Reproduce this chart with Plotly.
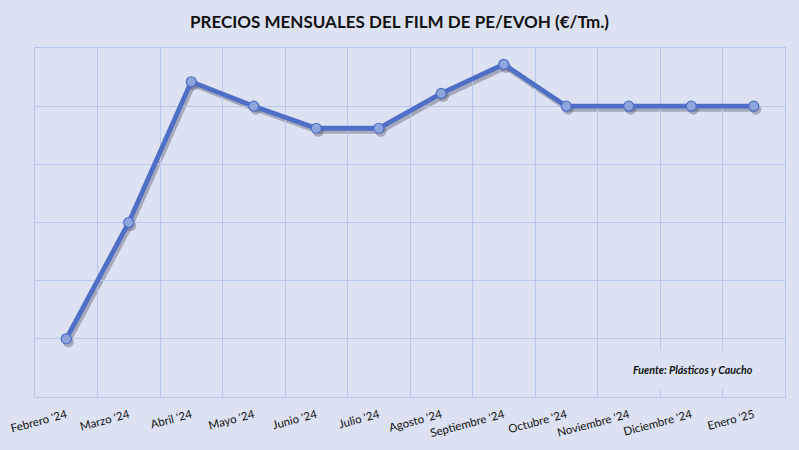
import plotly.graph_objects as go

months = ["Febrero '24", "Marzo '24", "Abril '24", "Mayo '24", "Junio '24", "Julio '24",
          "Agosto '24", "Septiembre '24", "Octubre '24", "Noviembre '24", "Diciembre '24", "Enero '25"]
prices = [2050, 2150, 2271, 2250, 2231, 2231, 2261, 2286, 2250, 2250, 2250, 2250]
y_min, y_max, y_step = 2000, 2300, 50

title = "PRECIOS MENSUALES DEL FILM DE PE/EVOH (€/Tm.)"
source = "Fuente: Plásticos y Caucho"

BG = "#dce2f2"
GRID = "#b6c8ec"
LINE = "#4f6fc6"
MARKER = "#8ea5de"
FONT = "Lato"

W, H = 799, 450
ml, mr, mt, mb = 35, 12, 48, 50
pw, ph = W - ml - mr, H - mt - mb
dx, dy = 2, 3

fig = go.Figure()
# shadow (drawn first, on its own slightly offset hidden axes)
fig.add_trace(go.Scatter(
    x=months, y=prices, mode="lines+markers", xaxis="x", yaxis="y",
    line=dict(color="rgba(50,50,70,0.32)", width=5),
    marker=dict(size=11, color="rgba(50,50,70,0.32)"),
    hoverinfo="skip", showlegend=False))
# main series
fig.add_trace(go.Scatter(
    x=months, y=prices, mode="lines+markers", xaxis="x2", yaxis="y2",
    line=dict(color=LINE, width=4.8),
    marker=dict(size=10, color=MARKER, line=dict(color=LINE, width=1.2)),
    showlegend=False))

fig.update_layout(
    width=W, height=H,
    paper_bgcolor=BG, plot_bgcolor="rgba(0,0,0,0)",
    margin=dict(l=ml, r=mr, t=mt, b=mb, autoexpand=False),
    font=dict(family=FONT, color="#000000"),
    title=dict(text="<b>" + title + "</b>", x=0.5, xanchor="center", y=0.952, yanchor="middle",
               font=dict(size=17, family=FONT, color="#111111")),
    xaxis=dict(domain=[dx / pw, 1], type="category", range=[-0.5, 11.5],
               anchor="y", visible=False, automargin=False),
    yaxis=dict(domain=[0, (ph - dy) / ph], range=[y_min, y_max], anchor="x", visible=False,
               automargin=False),
    xaxis2=dict(domain=[0, (pw - dx) / pw], type="category", range=[-0.5, 11.5], anchor="y2",
                tickson="boundaries", showgrid=True, gridcolor=GRID, gridwidth=1,
                ticks="", tickangle=-15, ticklabelstandoff=6,
                tickfont=dict(size=11.5, family=FONT, color="#111111"),
                showline=True, linecolor=GRID, mirror=True, zeroline=False, automargin=False),
    yaxis2=dict(domain=[dy / ph, 1], range=[y_min, y_max], dtick=y_step, tick0=y_min, anchor="x2",
                showgrid=True, gridcolor=GRID, gridwidth=1, showticklabels=False, ticks="",
                showline=True, linecolor=GRID, mirror=True, zeroline=False, automargin=False),
    annotations=[dict(text="<b><i>" + source + "</i></b>", x=0.875, y=0.088,
                      xref="paper", yref="paper", xanchor="center", yanchor="middle",
                      showarrow=False, font=dict(size=10.7, family=FONT, color="#111111"),
                      bgcolor=BG, borderpad=12)],
)

fig.write_html("out.html", config={"displayModeBar": False},
               post_script="document.body.style.margin='0';")
